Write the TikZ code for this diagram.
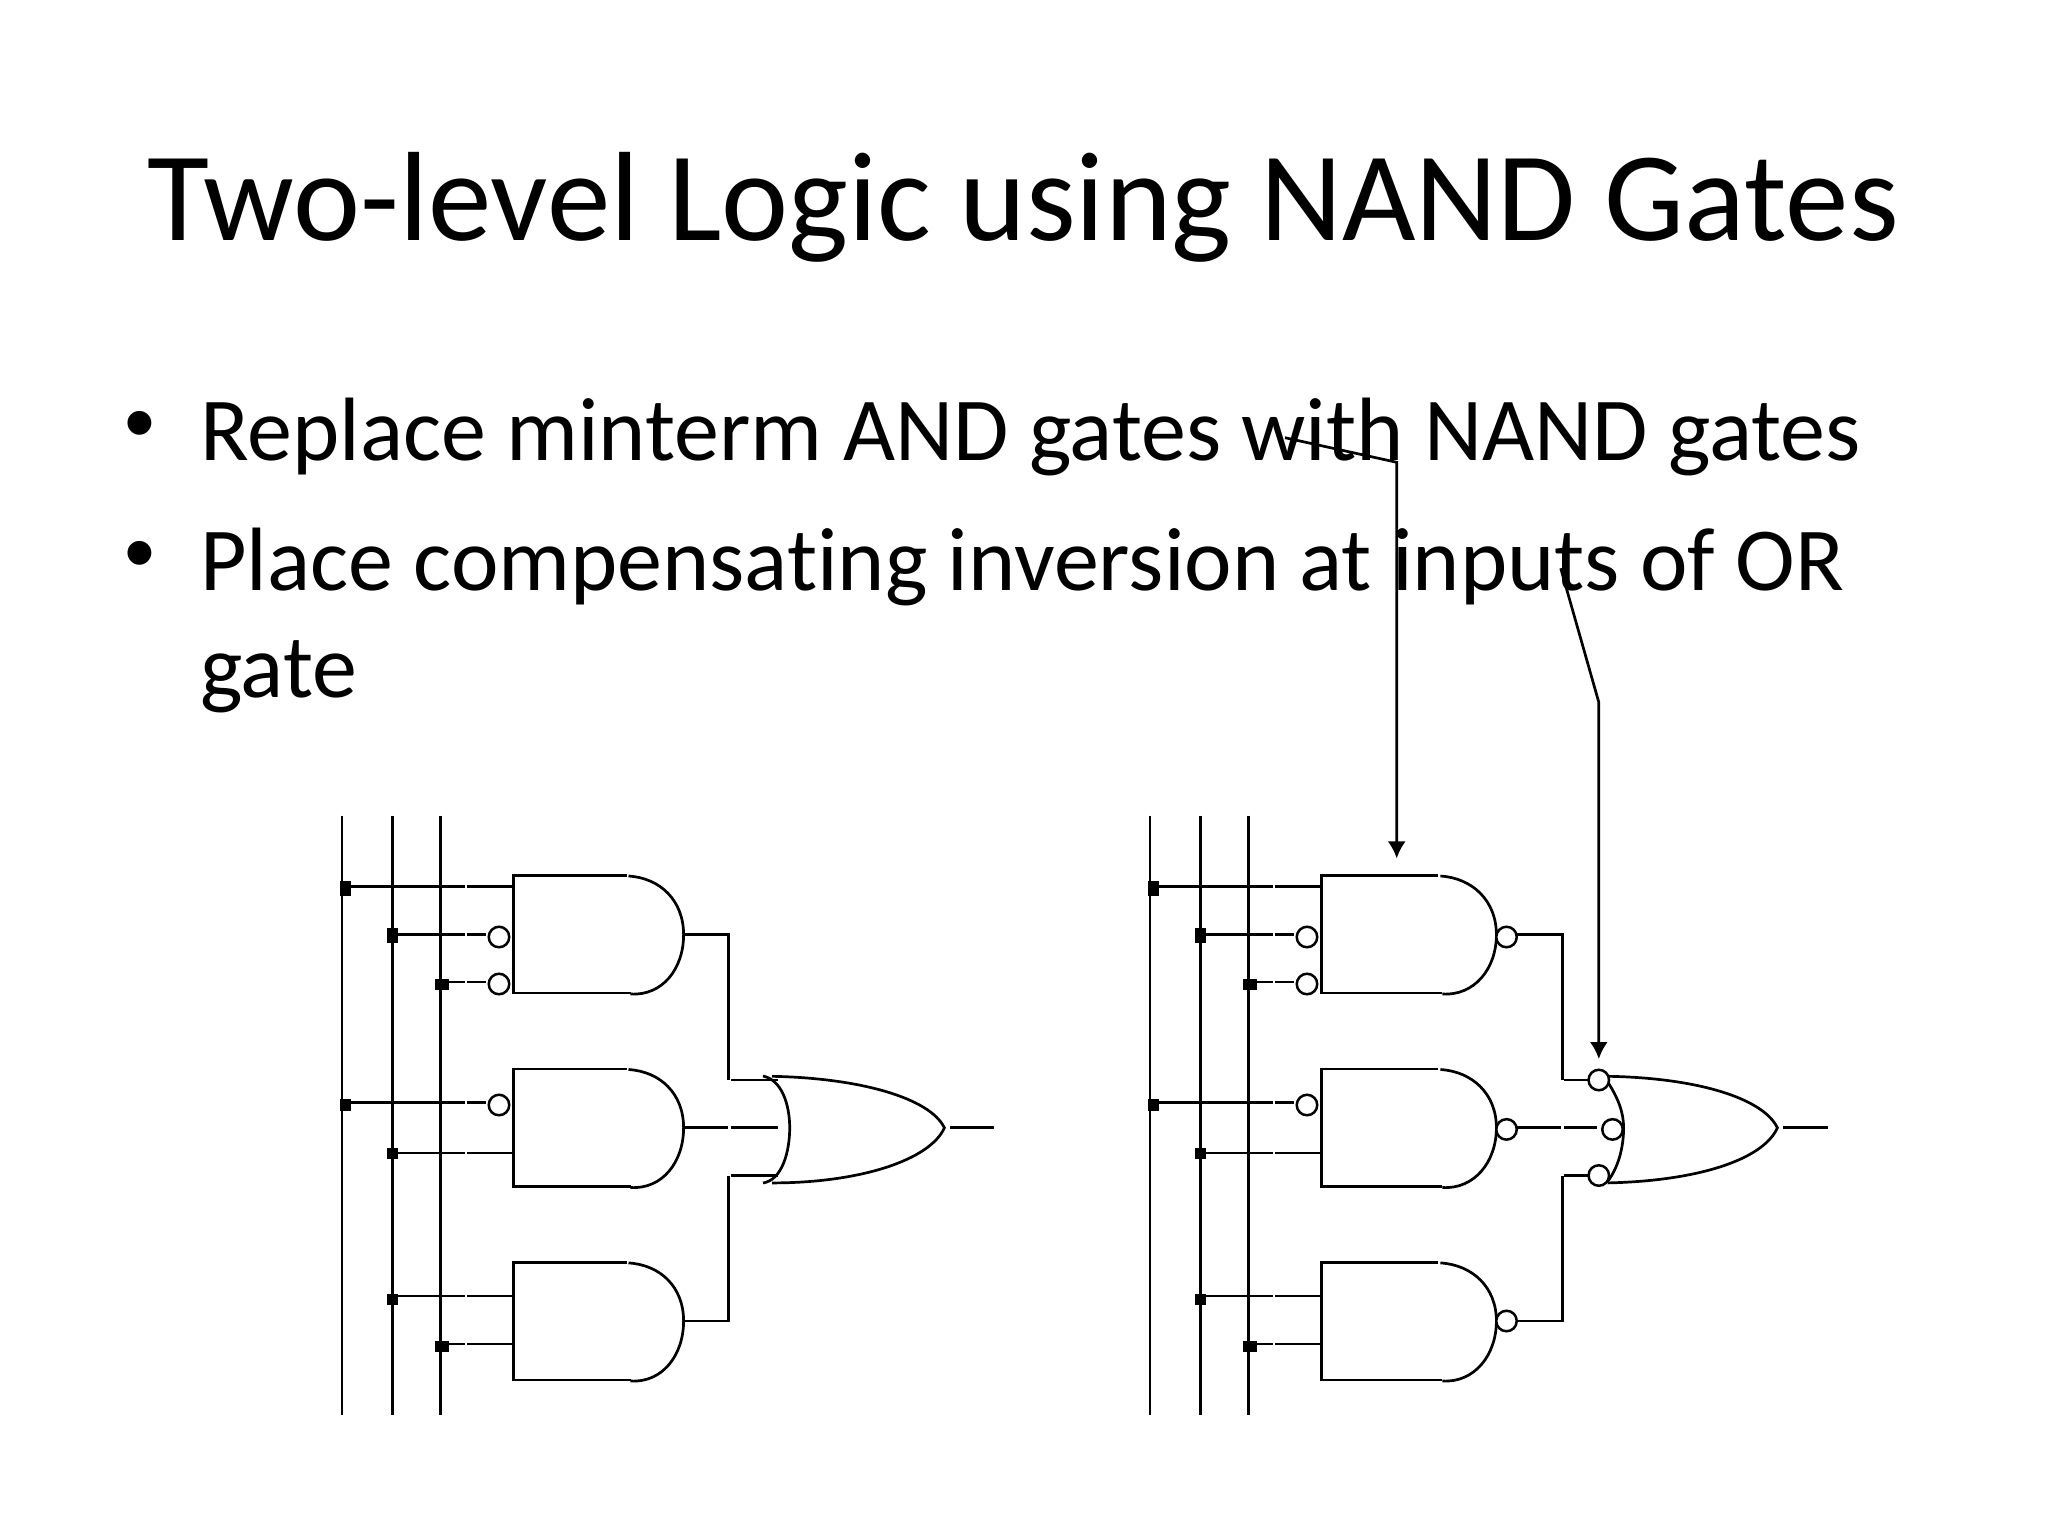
\documentclass[tikz,border=0pt]{standalone}
\usepackage{fontspec}
\setmainfont[Ligatures={NoCommon}]{Carlito}
\newfontfamily\bulletfont{Liberation Sans}
\usetikzlibrary{arrows.meta,calc}
\tikzset{
  wire/.style={line width=2.7pt,black,line cap=butt},
  bubble/.style={circle,draw=black,line width=2.5pt,fill=white,minimum size=20.5pt,inner sep=0pt},
  joint/.style={rectangle,fill=black,inner sep=0pt},
  title/.style={anchor=base west,inner sep=0pt,font=\fontsize{127}{127}\selectfont},
  body/.style={anchor=base west,inner sep=0pt,font=\fontsize{90}{90}\selectfont},
  mark bullet/.style={anchor=base west,inner sep=0pt,font=\bulletfont\fontsize{88}{88}\selectfont},
  pointer/.style={wire,-{Latex[length=17pt,width=18pt]}}
}
% body of an AND gate: x-left, arc start, arc right, y-top, y-mid, y-bottom
\newcommand{\gateshape}[6]{%
  \draw[wire] (#2-2,#4) -- (#1,#4) -- (#1,#6) -- (#2+2,#6);
  \draw[wire] (#2,#4+.5) .. controls +(32,2) and +(0,-34) .. (#3,#5)
              .. controls +(0,34) and +(32,2) .. (#2+2,#6+1);
}
% rails, joints, gate bodies and input wires, shared by both circuits
\newcommand{\inputsection}[1]{%
  \foreach \xx/\nn in {342/a,392.5/b,440.3/c}{
    \coordinate (#1rail\nn t) at (\xx,815.5);
    \coordinate (#1rail\nn b) at (\xx,1415);
    \draw[wire] (#1rail\nn t) -- (#1rail\nn b);
  }
  % inverted inputs
  \node[bubble] (#1i2) at (499,937) {};
  \node[bubble] (#1i3) at (499,984) {};
  \node[bubble] (#1i4) at (499,1105) {};
  % joints
  \node[joint,minimum width=11pt,minimum height=15pt] (#1j1) at (345,888) {};
  \node[joint,minimum width=11pt,minimum height=15pt] (#1j2) at (392.5,935.5) {};
  \node[joint,minimum width=14pt,minimum height=11pt] (#1j3) at (441.7,984.5) {};
  \node[joint,minimum width=11pt,minimum height=12pt] (#1j4) at (345,1105) {};
  \node[joint,minimum width=11pt,minimum height=11pt] (#1j5) at (392.5,1153) {};
  \node[joint,minimum width=11pt,minimum height=11pt] (#1j6) at (392.5,1299) {};
  \node[joint,minimum width=14pt,minimum height=11pt] (#1j7) at (441.7,1346) {};
  % input wires, each with its small gap
  \foreach \nn/\yy/\xe in {1/886.5/513.5,2/934.3/486,3/982/486,4/1102.4/486,5/1153/513.5,6/1296/513.5,7/1344/513.5}{
    \coordinate (#1g\nn s) at (#1j\nn.center |- 0,\yy);
    \coordinate (#1g\nn m) at (464.6,\yy);
    \coordinate (#1g\nn n) at (467,\yy);
    \coordinate (#1g\nn e) at (\xe,\yy);
    \draw[wire] (#1g\nn s) -- (#1g\nn m);
    \draw[wire] (#1g\nn n) -- (#1g\nn e);
  }
}
\begin{document}
\begin{tikzpicture}[x=1pt,y=-1pt]
\useasboundingbox (0,0) rectangle (2048,1535);
\fill[white] (0,0) rectangle (2048,1535);

% text
\node[title] (ttl) at (147,240) {Two-level Logic using NAND Gates};
\node[mark bullet] (bu1) at (124,452) {•};
\node[body] (tx1) at (200,460) {Replace minterm AND gates with NAND gates};
\node[mark bullet] (bu2) at (124,582) {•};
\node[body] (tx2) at (200,590) {Place compensating inversion at inputs of OR};
\node[body] (tx3) at (200,697) {gate};

% ---------- left circuit ----------
\inputsection{L}
\gateshape{513.5}{628.5}{683.6}{875.5}{934.7}{993}
\gateshape{513.5}{628.5}{683.6}{1069}{1127.8}{1186.5}
\gateshape{513.5}{628.5}{683.6}{1262.4}{1321}{1380}
\coordinate (Lo1) at (683.6,934.7);
\coordinate (Lo2) at (683.6,1127.8);
\coordinate (Lo3) at (683.6,1321);
\coordinate (Lb1) at (728.6,934.7);
\coordinate (Lb3) at (728.6,1321);
\coordinate (Lk1) at (728.6,1079.5);
\coordinate (Lk3) at (728.6,1176);
\coordinate (Lh1) at (731,1080);
\coordinate (Lh3) at (731,1175.5);
\coordinate (Li1) at (778,1080);
\coordinate (Li3) at (778,1175.5);
\coordinate (Lm1) at (727.7,1127.8);
\coordinate (Lm2) at (731,1127.8);
\coordinate (Li2) at (778,1127.8);
\draw[wire] (Lo1) -- (Lb1) -- (Lk1);
\draw[wire] (Lh1) -- (Li1);
\draw[wire] (Lo3) -- (Lb3) -- (Lk3);
\draw[wire] (Lh3) -- (Li3);
\draw[wire] (Lo2) -- (Lm1);
\draw[wire] (Lm2) -- (Li2);
% OR gate
\draw[wire] (763,1076) .. controls (782,1080) and (789.7,1105) .. (789.7,1127.8)
            .. controls (789.7,1152) and (782,1180) .. (763,1183);
\draw[wire] (772,1076.3) .. controls (860,1078) and (930,1098) .. (944.4,1127.8)
            .. controls (930,1160) and (860,1183) .. (772,1182.9);
\coordinate (Lq1) at (950,1127.8);
\coordinate (Lq2) at (994,1127.8);
\draw[wire] (Lq1) -- (Lq2);

% ---------- right circuit ----------
\begin{scope}[xshift=808pt]
\inputsection{R}
\end{scope}
\gateshape{1321.5}{1440.4}{1496.4}{875.5}{934.7}{993}
\gateshape{1321.5}{1440.4}{1496.4}{1069}{1127.8}{1186.5}
\gateshape{1321.5}{1440.4}{1496.4}{1262.4}{1321}{1380}
\node[bubble] (Rn1) at (1506.5,937) {};
\node[bubble] (Rn2) at (1506.5,1129.4) {};
\node[bubble] (Rn3) at (1506.5,1321) {};
\coordinate (Rb1) at (1562.5,934.7);
\coordinate (Rb3) at (1562.5,1321);
\coordinate (Rk1) at (1562.5,1079.5);
\coordinate (Rk3) at (1562.5,1176);
\coordinate (Rs1) at (1517,934.7);
\coordinate (Rs3) at (1517,1321);
\coordinate (Rh1) at (1564,1080);
\coordinate (Rh3) at (1564,1175.5);
\coordinate (Ri1) at (1587.5,1080);
\coordinate (Ri3) at (1587.5,1175.5);
\coordinate (Rs2) at (1517,1127.8);
\coordinate (Rm1) at (1560.7,1127.8);
\coordinate (Rm2) at (1564,1127.8);
\coordinate (Ri2) at (1597,1127.8);
\draw[wire] (Rs1) -- (Rb1) -- (Rk1);
\draw[wire] (Rh1) -- (Ri1);
\draw[wire] (Rs3) -- (Rb3) -- (Rk3);
\draw[wire] (Rh3) -- (Ri3);
\draw[wire] (Rs2) -- (Rm1);
\draw[wire] (Rm2) -- (Ri2);
% OR gate
\draw[wire] (1607.5,1081.6) .. controls (1618,1098) and (1623.6,1112) .. (1623.6,1127.8)
            .. controls (1623.6,1148) and (1618,1168) .. (1607.5,1181.6);
\draw[wire] (1609,1076.3) .. controls (1697,1078) and (1763,1098) .. (1777.4,1127.8)
            .. controls (1763,1160) and (1697,1181) .. (1607.5,1182.9);
\node[bubble] (Rc1) at (1598.8,1080) {};
\node[bubble] (Rc2) at (1612.5,1129.4) {};
\node[bubble] (Rc3) at (1598.8,1175.5) {};
\coordinate (Rq1) at (1783,1127.8);
\coordinate (Rq2) at (1828,1127.8);
\draw[wire] (Rq1) -- (Rq2);

% pointers from the text
\coordinate (p1s) at (1285,437.7);
\coordinate (p1b) at (1396.7,462.3);
\coordinate (p1e) at (1396.7,858.4);
\coordinate (p2s) at (1560.7,568.3);
\coordinate (p2b) at (1598.8,702.3);
\coordinate (p2e) at (1598.8,1059);
\draw[pointer] (p1s) -- (p1b) -- (p1e);
\draw[pointer] (p2s) -- (p2b) -- (p2e);
\end{tikzpicture}
\end{document}
